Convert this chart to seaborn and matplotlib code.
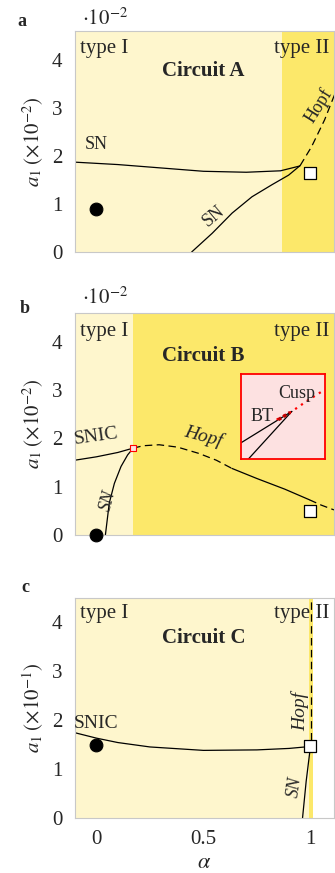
import numpy as np
import pandas as pd
import matplotlib
matplotlib.use("Agg")
import matplotlib.pyplot as plt
import seaborn as sns

sns.set_theme(style="white")
plt.rcParams['font.family'] = ['Liberation Serif', 'DejaVu Serif']
plt.rcParams['mathtext.fontset'] = 'stix'

# ---------------- data ----------------
# Panel a (Circuit A), a1 in units of 1e-2
a_region_edges = [-0.1, 0.865, 1.11]
a_sn_upper_x = [-0.1, 0.1, 0.3, 0.5, 0.7, 0.86, 0.95]
a_sn_upper_y = [1.87, 1.82, 1.75, 1.68, 1.66, 1.69, 1.79]
a_sn_lower_x = [0.445, 0.541, 0.634, 0.727, 0.82, 0.898, 0.952]
a_sn_lower_y = [0.0, 0.39, 0.81, 1.15, 1.40, 1.60, 1.80]
a_hopf_x = [0.952, 1.005, 1.066, 1.097, 1.115]
a_hopf_y = [1.80, 2.19, 2.75, 3.10, 3.30]
a_circle = (0.0, 0.9)
a_square = (1.0, 1.64)

# Panel b (Circuit B), a1 in units of 1e-2
b_region_edges = [-0.1, 0.172, 1.11]
b_snic_x = [-0.1, 0.0, 0.1, 0.172]
b_snic_y = [1.55, 1.62, 1.71, 1.80]
b_sn_x = [0.042, 0.060, 0.084, 0.115, 0.146, 0.172]
b_sn_y = [0.0, 0.66, 1.07, 1.42, 1.66, 1.80]
b_hopf_dash1_x = [0.172, 0.22, 0.293, 0.38, 0.479, 0.56, 0.633]
b_hopf_dash1_y = [1.80, 1.85, 1.87, 1.82, 1.69, 1.55, 1.38]
b_hopf_solid_x = [0.633, 0.75, 0.88, 0.995]
b_hopf_solid_y = [1.38, 1.17, 0.95, 0.73]
b_hopf_dash2_x = [0.995, 1.05, 1.11]
b_hopf_dash2_y = [0.73, 0.62, 0.52]
b_circle = (0.0, 0.0)
b_square = (1.0, 0.50)
b_bt_point = (0.172, 1.80)
b_inset_box = [0.677, 1.58, 0.393, 1.76]  # x0, y0, width, height (data)
inset_line1_x = [0.0, 0.60]
inset_line1_y = [0.19, 0.557]
inset_line2_x = [0.087, 0.60]
inset_line2_y = [0.0, 0.557]
inset_cusp_x = [0.42, 0.60, 0.78, 0.97]
inset_cusp_y = [0.46, 0.557, 0.68, 0.80]
inset_bt_x = [0.44, 0.58]
inset_bt_y = [0.46, 0.545]

# Panel c (Circuit C), a1 in units of 1e-1
c_region_edges = [-0.1, 0.991, 1.014, 1.11]
c_snic_x = [-0.1, 0.0, 0.1, 0.25, 0.5, 0.75, 0.9, 1.0]
c_snic_y = [1.74, 1.63, 1.54, 1.45, 1.38, 1.39, 1.42, 1.46]
c_sn_x = [0.963, 0.98, 1.0]
c_sn_y = [0.0, 0.75, 1.46]
c_hopf_x = [1.003, 1.003]
c_hopf_y = [1.60, 4.6]
c_circle = (0.0, 1.49)
c_square = (1.0, 1.46)

x_ticks = [0, 0.5, 1]
x_ticklabels = ['0', '0.5', '1']
y_ticks = [0, 1, 2, 3, 4]

LIGHT = '#FEF6CD'
DARK = '#FCE86A'
FS_TICK = 15
FS_HEAD = 15
FS_LAB = 13

W, H = 335, 873
fig = plt.figure(figsize=(W / 100, H / 100), dpi=100)


def ax_at(top, bottom, left=75, right=334):
    return fig.add_axes([left / W, 1 - bottom / H, (right - left) / W, (bottom - top) / H])


def line(ax, xs, ys, dashed=False, color='black', lw=0.9):
    df = pd.DataFrame({'x': xs, 'y': ys})
    sns.lineplot(data=df, x='x', y='y', ax=ax, sort=False, color=color, lw=lw,
                 linestyle=(0, (6, 3.5)) if dashed else '-', estimator=None)


def markers(ax, circle, square):
    sns.scatterplot(x=[circle[0]], y=[circle[1]], ax=ax, color='black', s=85,
                    marker='o', edgecolor='black', zorder=5, clip_on=False)
    sns.scatterplot(x=[square[0]], y=[square[1]], ax=ax, color='white', s=80,
                    marker='s', edgecolor='black', linewidth=0.9, zorder=5, clip_on=False)


def style(ax, ylabel, show_x=False, ylim=4.6):
    ax.set_xlim(-0.1, 1.11)
    ax.set_ylim(0, ylim)
    ax.set_yticks(y_ticks)
    ax.set_yticklabels([str(v) for v in y_ticks], fontsize=FS_TICK)
    ax.tick_params(axis='both', length=0, pad=9)
    if show_x:
        ax.set_xticks(x_ticks)
        ax.set_xticklabels(x_ticklabels, fontsize=FS_TICK)
        ax.set_xlabel(r'$\alpha$', fontsize=FS_TICK + 1, labelpad=3)
    else:
        ax.set_xticks([])
        ax.set_xlabel('')
    ax.set_ylabel(ylabel, fontsize=FS_TICK, labelpad=4)
    for s in ax.spines.values():
        s.set_color('#C8C8C8')
        s.set_linewidth(0.8)


def headers(ax, name, ytype, ycirc):
    ax.text(-0.077, ytype, 'type I', ha='left', va='center', fontsize=FS_HEAD)
    ax.text(1.087, ytype, 'type II', ha='right', va='center', fontsize=FS_HEAD)
    ax.text(0.5, ycirc, name, ha='center', va='center', fontsize=FS_HEAD, fontweight='bold')


# ---------------- panel a ----------------
ax = ax_at(31, 252)
ax.axvspan(a_region_edges[0], a_region_edges[1], color=LIGHT, lw=0)
ax.axvspan(a_region_edges[1], a_region_edges[2], color=DARK, lw=0)
line(ax, a_sn_upper_x, a_sn_upper_y)
line(ax, a_sn_lower_x, a_sn_lower_y)
line(ax, a_hopf_x, a_hopf_y, dashed=True)
markers(ax, a_circle, a_square)
headers(ax, 'Circuit A', 4.24, 3.76)
ax.text(0.0, 2.23, 'SN', ha='center', va='center', fontsize=FS_LAB)
ax.text(0.55, 0.74, 'SN', ha='center', va='center', fontsize=FS_LAB, rotation=40)
ax.text(1.04, 3.05, 'Hopf', ha='center', va='center', fontsize=FS_LAB, rotation=58, clip_on=False)
style(ax, r'$a_1\;(\times10^{-2})$')
fig.text(22 / W, 1 - 22 / H, 'a', fontsize=13, fontweight='bold', ha='center', va='center')
fig.text(82 / W, 1 - 19 / H, r'$\cdot10^{-2}$', fontsize=15, ha='left', va='center')

# ---------------- panel b ----------------
ax = ax_at(313, 535)
ax.axvspan(b_region_edges[0], b_region_edges[1], color=LIGHT, lw=0)
ax.axvspan(b_region_edges[1], b_region_edges[2], color=DARK, lw=0)
line(ax, b_snic_x, b_snic_y)
line(ax, b_sn_x, b_sn_y)
line(ax, b_hopf_dash1_x, b_hopf_dash1_y, dashed=True)
line(ax, b_hopf_solid_x, b_hopf_solid_y)
line(ax, b_hopf_dash2_x, b_hopf_dash2_y, dashed=True)
markers(ax, b_circle, b_square)
sns.scatterplot(x=[b_bt_point[0]], y=[b_bt_point[1]], ax=ax, color='#FDE0E0', s=16,
                marker='s', edgecolor='red', linewidth=0.8, zorder=6)
headers(ax, 'Circuit B', 4.21, 3.71)
ax.text(0.0, 2.04, 'SNIC', ha='center', va='center', fontsize=FS_LAB + 1, rotation=8)
ax.text(0.055, 0.72, 'SN', ha='center', va='center', fontsize=FS_LAB, rotation=75, style='italic')
ax.text(0.5, 2.04, 'Hopf', ha='center', va='center', fontsize=FS_LAB + 1, rotation=-15, style='italic')
style(ax, r'$a_1\;(\times10^{-2})$')
ins = ax.inset_axes(b_inset_box, transform=ax.transData)
ins.set_facecolor('#FDE1E1')
line(ins, inset_line1_x, inset_line1_y)
line(ins, inset_line2_x, inset_line2_y)
ins.plot(inset_cusp_x, inset_cusp_y, color='red', lw=1.6, linestyle=(0, (1, 2.2)))
ins.plot(inset_bt_x, inset_bt_y, color='#C00000', lw=2.4, linestyle=(0, (1, 0.8)))
ins.text(0.245, 0.5, 'BT', ha='center', va='center', fontsize=13)
ins.text(0.66, 0.77, 'Cusp', ha='center', va='center', fontsize=13)
ins.set_xlim(0, 1)
ins.set_ylim(0, 1)
ins.set_xticks([])
ins.set_yticks([])
ins.set_xlabel('')
ins.set_ylabel('')
for s in ins.spines.values():
    s.set_color('red')
    s.set_linewidth(1.3)
fig.text(25 / W, 1 - 308 / H, 'b', fontsize=13, fontweight='bold', ha='center', va='center')
fig.text(82 / W, 1 - 298 / H, r'$\cdot10^{-2}$', fontsize=15, ha='left', va='center')

# ---------------- panel c ----------------
ax = ax_at(598, 818)
ax.axvspan(c_region_edges[0], c_region_edges[1], color=LIGHT, lw=0)
ax.axvspan(c_region_edges[1], c_region_edges[2], color=DARK, lw=0)
ax.axvspan(c_region_edges[2], c_region_edges[3], color='white', lw=0)
line(ax, c_snic_x, c_snic_y)
line(ax, c_sn_x, c_sn_y)
line(ax, c_hopf_x, c_hopf_y, dashed=True)
markers(ax, c_circle, c_square)
headers(ax, 'Circuit C', 4.18, 3.67)
ax.text(0.0, 1.93, 'SNIC', ha='center', va='center', fontsize=FS_LAB + 1)
ax.text(0.952, 2.17, 'Hopf', ha='center', va='center', fontsize=FS_LAB + 1, rotation=90, style='italic')
ax.text(0.929, 0.64, 'SN', ha='center', va='center', fontsize=FS_LAB, rotation=82, style='italic')
style(ax, r'$a_1\;(\times10^{-1})$', show_x=True, ylim=4.49)
fig.text(25 / W, 1 - 588 / H, 'c', fontsize=13, fontweight='bold', ha='center', va='center')

fig.savefig('out.png', dpi=100)
